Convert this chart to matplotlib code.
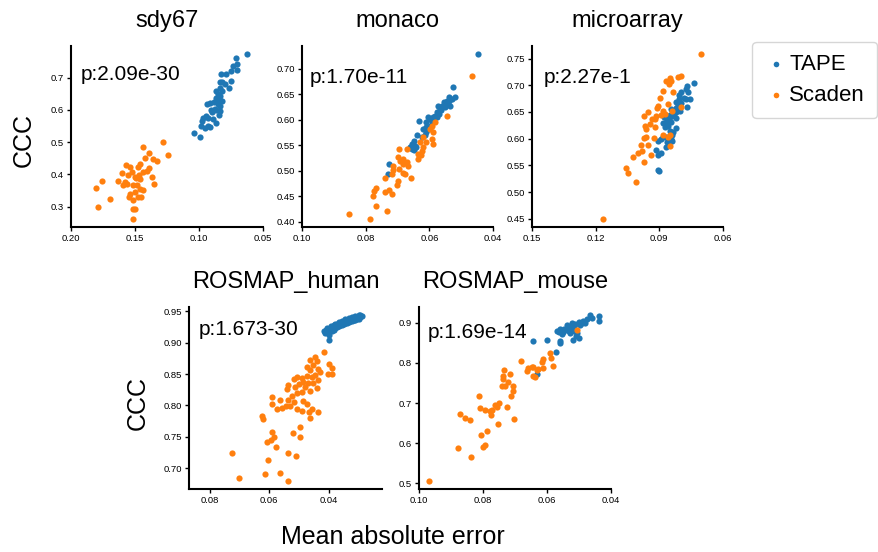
import matplotlib
matplotlib.use("Agg")
import matplotlib.pyplot as plt

plt.rcParams["font.family"] = ["Liberation Sans", "DejaVu Sans"]

BLUE = "#1f77b4"
ORANGE = "#ff7f0e"

# ---- data ----
# sdy67
sdy67_tape_mae = [0.0622, 0.0713, 0.0703, 0.0734, 0.0703, 0.0752, 0.0786, 0.0825, 0.0752, 0.0817,
                  0.0838, 0.0799, 0.0765, 0.0838, 0.0817, 0.0864, 0.0851, 0.0833, 0.0869, 0.0843,
                  0.0859, 0.0817, 0.0882, 0.0851, 0.0916, 0.0937, 0.0838, 0.0877, 0.0903, 0.0864,
                  0.0838, 0.0895, 0.0843, 0.0942, 0.0968, 0.0929, 0.0890, 0.0973, 0.0864, 0.0932,
                  0.0981, 0.0916, 0.0955, 0.1038, 0.0991]
sdy67_tape_ccc = [0.772, 0.759, 0.743, 0.736, 0.724, 0.721, 0.710, 0.710, 0.690, 0.685,
                  0.685, 0.679, 0.669, 0.666, 0.659, 0.659, 0.649, 0.643, 0.638, 0.633,
                  0.628, 0.628, 0.623, 0.618, 0.621, 0.619, 0.611, 0.604, 0.600, 0.600,
                  0.597, 0.592, 0.584, 0.580, 0.574, 0.574, 0.571, 0.566, 0.559, 0.549,
                  0.549, 0.546, 0.545, 0.528, 0.515]
sdy67_scaden_mae = [0.1283, 0.1441, 0.1241, 0.1392, 0.1420, 0.1363, 0.1332, 0.1571, 0.1540, 0.1462,
                    0.1475, 0.1389, 0.1405, 0.1605, 0.1527, 0.1436, 0.1467, 0.1501, 0.1553, 0.1371,
                    0.1631, 0.1579, 0.1493, 0.1462, 0.1566, 0.1597, 0.1519, 0.1350, 0.1758, 0.1802,
                    0.1696, 0.1462, 0.1436, 0.1498, 0.1540, 0.1545, 0.1475, 0.1454, 0.1519, 0.1787,
                    0.1514, 0.1501, 0.1519, 0.1488]
sdy67_scaden_ccc = [0.500, 0.486, 0.461, 0.467, 0.450, 0.448, 0.441, 0.428, 0.422, 0.433,
                    0.422, 0.419, 0.412, 0.404, 0.407, 0.407, 0.397, 0.392, 0.397, 0.392,
                    0.379, 0.376, 0.388, 0.386, 0.371, 0.368, 0.366, 0.370, 0.381, 0.358,
                    0.323, 0.355, 0.353, 0.345, 0.340, 0.330, 0.330, 0.330, 0.320, 0.298,
                    0.294, 0.292, 0.263, 0.366]

# monaco
monaco_tape_mae = [0.0446, 0.0525, 0.0520, 0.0530, 0.0538, 0.0546, 0.0553, 0.0544, 0.0559, 0.0551,
                   0.0567, 0.0562, 0.0572, 0.0577, 0.0569, 0.0583, 0.0577, 0.0590, 0.0598, 0.0603,
                   0.0609, 0.0593, 0.0632, 0.0598, 0.0603, 0.0611, 0.0619, 0.0609, 0.0614, 0.0640,
                   0.0624, 0.0648, 0.0653, 0.0645, 0.0656, 0.0642, 0.0653, 0.0648, 0.0661, 0.0726,
                   0.0731, 0.0536, 0.0539]
monaco_tape_ccc = [0.728, 0.664, 0.644, 0.640, 0.637, 0.637, 0.634, 0.631, 0.627, 0.624,
                   0.621, 0.618, 0.626, 0.614, 0.611, 0.608, 0.605, 0.606, 0.601, 0.605,
                   0.596, 0.595, 0.598, 0.588, 0.582, 0.585, 0.582, 0.575, 0.570, 0.570,
                   0.566, 0.559, 0.553, 0.549, 0.548, 0.546, 0.542, 0.540, 0.546, 0.514,
                   0.494, 0.627, 0.644]
monaco_scaden_mae = [0.0467, 0.0544, 0.0583, 0.0593, 0.0598, 0.0590, 0.0621, 0.0593, 0.0609, 0.0590,
                     0.0630, 0.0619, 0.0624, 0.0635, 0.0627, 0.0635, 0.0694, 0.0671, 0.0697, 0.0682,
                     0.0692, 0.0671, 0.0684, 0.0666, 0.0713, 0.0715, 0.0694, 0.0682, 0.0718, 0.0677,
                     0.0659, 0.0739, 0.0697, 0.0703, 0.0767, 0.0774, 0.0776, 0.0739, 0.0726, 0.0718,
                     0.0767, 0.0732, 0.0851, 0.0786]
monaco_scaden_ccc = [0.686, 0.608, 0.595, 0.588, 0.582, 0.575, 0.566, 0.562, 0.556, 0.553,
                     0.556, 0.546, 0.538, 0.533, 0.530, 0.523, 0.542, 0.542, 0.527, 0.523,
                     0.520, 0.517, 0.514, 0.510, 0.510, 0.501, 0.503, 0.496, 0.494, 0.494,
                     0.486, 0.486, 0.479, 0.473, 0.466, 0.460, 0.451, 0.458, 0.462, 0.455,
                     0.431, 0.421, 0.416, 0.406]

# microarray
micro_tape_mae = [0.0738, 0.0770, 0.0773, 0.0765, 0.0796, 0.0807, 0.0785, 0.0757, 0.0807, 0.0773,
                  0.0820, 0.0796, 0.0770, 0.0812, 0.0823, 0.0843, 0.0804, 0.0820, 0.0833, 0.0851,
                  0.0839, 0.0867, 0.0880, 0.0820, 0.0854, 0.0870, 0.0843, 0.0883, 0.0859, 0.0875,
                  0.0823, 0.0851, 0.0836, 0.0839, 0.0883, 0.0867, 0.0891, 0.0843, 0.0854, 0.0864,
                  0.0906, 0.0839, 0.0917, 0.0891, 0.0906, 0.0867, 0.0906, 0.0902]
micro_tape_ccc = [0.705, 0.699, 0.692, 0.687, 0.687, 0.682, 0.677, 0.674, 0.674, 0.674,
                  0.669, 0.667, 0.660, 0.663, 0.657, 0.655, 0.652, 0.649, 0.646, 0.644,
                  0.642, 0.643, 0.640, 0.638, 0.636, 0.632, 0.631, 0.629, 0.624, 0.621,
                  0.619, 0.615, 0.612, 0.607, 0.604, 0.603, 0.599, 0.599, 0.596, 0.593,
                  0.596, 0.596, 0.579, 0.573, 0.570, 0.584, 0.542, 0.540]
micro_scaden_mae = [0.0702, 0.0796, 0.0812, 0.0848, 0.0843, 0.0854, 0.0867, 0.0883, 0.0836, 0.0895,
                    0.0859, 0.0906, 0.0839, 0.0796, 0.0883, 0.0891, 0.0911, 0.0953, 0.0974, 0.0933,
                    0.0922, 0.0946, 0.0969, 0.0922, 0.0961, 0.0875, 0.0851, 0.0883, 0.0859, 0.0961,
                    0.0927, 0.0974, 0.0985, 0.0953, 0.1001, 0.0980, 0.0938, 0.1024, 0.0974, 0.1059,
                    0.1048, 0.1008, 0.1165, 0.0848, 0.0914]
micro_scaden_ccc = [0.758, 0.718, 0.715, 0.713, 0.708, 0.702, 0.708, 0.690, 0.688, 0.677,
                    0.665, 0.662, 0.652, 0.660, 0.652, 0.644, 0.657, 0.650, 0.642, 0.637,
                    0.637, 0.627, 0.624, 0.621, 0.618, 0.646, 0.606, 0.607, 0.604, 0.603,
                    0.601, 0.601, 0.588, 0.588, 0.573, 0.576, 0.570, 0.565, 0.556, 0.545,
                    0.536, 0.519, 0.450, 0.586, 0.642]

# ROSMAP_human
human_tape_mae = [0.0415, 0.0408, 0.0400, 0.0394, 0.0397, 0.0403, 0.0389, 0.0383, 0.0377, 0.0372,
                  0.0366, 0.0361, 0.0355, 0.0349, 0.0344, 0.0338, 0.0332, 0.0327, 0.0321, 0.0315,
                  0.0310, 0.0304, 0.0299, 0.0293, 0.0287, 0.0383, 0.0372, 0.0361, 0.0349, 0.0338,
                  0.0327, 0.0315, 0.0304, 0.0392, 0.0377, 0.0366, 0.0355, 0.0344, 0.0332, 0.0321,
                  0.0310, 0.0299, 0.0406, 0.0398, 0.0411, 0.0389, 0.0374, 0.0363, 0.0352, 0.0340,
                  0.0329, 0.0318, 0.0306, 0.0295]
human_tape_ccc = [0.9177, 0.9204, 0.9220, 0.9188, 0.9043, 0.9151, 0.9242, 0.9274, 0.9231, 0.9296,
                  0.9258, 0.9317, 0.9285, 0.9339, 0.9306, 0.9355, 0.9323, 0.9371, 0.9339, 0.9392,
                  0.9360, 0.9409, 0.9382, 0.9435, 0.9419, 0.9204, 0.9242, 0.9274, 0.9296, 0.9317,
                  0.9339, 0.9355, 0.9376, 0.9258, 0.9296, 0.9328, 0.9349, 0.9371, 0.9392, 0.9403,
                  0.9419, 0.9435, 0.9231, 0.9124, 0.9151, 0.9177, 0.9274, 0.9306, 0.9323, 0.9349,
                  0.9366, 0.9376, 0.9392, 0.9403]
human_scaden_mae = [0.0415, 0.0445, 0.0464, 0.0439, 0.0400, 0.0389, 0.0403, 0.0389, 0.0453, 0.0473,
                    0.0462, 0.0434, 0.0428, 0.0445, 0.0456, 0.0473, 0.0490, 0.0507, 0.0518, 0.0434,
                    0.0451, 0.0468, 0.0487, 0.0501, 0.0535, 0.0541, 0.0513, 0.0479, 0.0462, 0.0439,
                    0.0490, 0.0507, 0.0524, 0.0535, 0.0563, 0.0543, 0.0518, 0.0487, 0.0473, 0.0456,
                    0.0464, 0.0490, 0.0507, 0.0530, 0.0558, 0.0575, 0.0592, 0.0592, 0.0620, 0.0625,
                    0.0592, 0.0584, 0.0595, 0.0608, 0.0577, 0.0603, 0.0535, 0.0509, 0.0725, 0.0701,
                    0.0614, 0.0563, 0.0535, 0.0466, 0.0434, 0.0496, 0.0496, 0.0521]
human_scaden_ccc = [0.8844, 0.8774, 0.8720, 0.8704, 0.8667, 0.8597, 0.8505, 0.8505, 0.8640, 0.8613,
                    0.8559, 0.8586, 0.8532, 0.8478, 0.8452, 0.8468, 0.8435, 0.8452, 0.8425, 0.8398,
                    0.8360, 0.8360, 0.8371, 0.8344, 0.8328, 0.8263, 0.8290, 0.8290, 0.8237, 0.8274,
                    0.8220, 0.8199, 0.8156, 0.8091, 0.8091, 0.7995, 0.8048, 0.8075, 0.8022, 0.7941,
                    0.7806, 0.7914, 0.7941, 0.7984, 0.7952, 0.7941, 0.8129, 0.8022, 0.7790, 0.7833,
                    0.7575, 0.7500, 0.7446, 0.7414, 0.7339, 0.7134, 0.7242, 0.7199, 0.7242, 0.6849,
                    0.6903, 0.6930, 0.6801, 0.7903, 0.7898, 0.7661, 0.7500, 0.7554]

# ROSMAP_mouse
mouse_tape_mae = [0.0436, 0.0439, 0.0465, 0.0460, 0.0475, 0.0486, 0.0491, 0.0501, 0.0512, 0.0517,
                  0.0528, 0.0533, 0.0517, 0.0530, 0.0538, 0.0551, 0.0559, 0.0564, 0.0569, 0.0554,
                  0.0528, 0.0507, 0.0509, 0.0519, 0.0501, 0.0559, 0.0559, 0.0599, 0.0643, 0.0571,
                  0.0632, 0.0480, 0.0496, 0.0522, 0.0538, 0.0515, 0.0546]
mouse_tape_ccc = [0.9042, 0.9167, 0.9183, 0.9125, 0.9083, 0.9042, 0.9000, 0.9017, 0.8958, 0.8917,
                  0.8900, 0.8850, 0.8833, 0.8792, 0.8817, 0.8767, 0.8833, 0.8767, 0.8792, 0.8708,
                  0.8750, 0.8750, 0.8667, 0.8567, 0.8625, 0.8542, 0.8483, 0.8567, 0.8542, 0.8267,
                  0.7733, 0.9000, 0.8933, 0.9000, 0.8933, 0.8792, 0.8850]
mouse_scaden_mae = [0.0505, 0.0590, 0.0588, 0.0582, 0.0613, 0.0616, 0.0611, 0.0632, 0.0643, 0.0648,
                    0.0658, 0.0661, 0.0643, 0.0637, 0.0627, 0.0682, 0.0716, 0.0735, 0.0737, 0.0739,
                    0.0731, 0.0721, 0.0705, 0.0705, 0.0714, 0.0703, 0.0742, 0.0749, 0.0757, 0.0763,
                    0.0773, 0.0778, 0.0776, 0.0794, 0.0810, 0.0726, 0.0754, 0.0789, 0.0805, 0.0794,
                    0.0799, 0.0812, 0.0841, 0.0872, 0.0857, 0.0878, 0.0839, 0.0969]
mouse_scaden_ccc = [0.8817, 0.8250, 0.8125, 0.7917, 0.8083, 0.8017, 0.7875, 0.7833, 0.7900, 0.7900,
                    0.7875, 0.7792, 0.7683, 0.7650, 0.7850, 0.8042, 0.7733, 0.7833, 0.7683, 0.7600,
                    0.7433, 0.7517, 0.7417, 0.7292, 0.7183, 0.6600, 0.7417, 0.7000, 0.6900, 0.6958,
                    0.6817, 0.6792, 0.6708, 0.6817, 0.6875, 0.6900, 0.6475, 0.6292, 0.6208, 0.5958,
                    0.5917, 0.7183, 0.6583, 0.6733, 0.6625, 0.5875, 0.5667, 0.5067]

titles = ["sdy67", "monaco", "microarray", "ROSMAP_human", "ROSMAP_mouse"]
pvals = ["p:2.09e-30", "p:1.70e-11", "p:2.27e-1", "p:1.673-30", "p:1.69e-14"]
xticks = [[0.20, 0.15, 0.10, 0.05], [0.10, 0.08, 0.06, 0.04], [0.15, 0.12, 0.09, 0.06],
          [0.08, 0.06, 0.04], [0.10, 0.08, 0.06, 0.04]]
xlims = [(0.20, 0.05), (0.10, 0.04), (0.15, 0.06), (0.087, 0.022), (0.10, 0.04)]

panels = [
    (sdy67_tape_mae, sdy67_tape_ccc, sdy67_scaden_mae, sdy67_scaden_ccc),
    (monaco_tape_mae, monaco_tape_ccc, monaco_scaden_mae, monaco_scaden_ccc),
    (micro_tape_mae, micro_tape_ccc, micro_scaden_mae, micro_scaden_ccc),
    (human_tape_mae, human_tape_ccc, human_scaden_mae, human_scaden_ccc),
    (mouse_tape_mae, mouse_tape_ccc, mouse_scaden_mae, mouse_scaden_ccc),
]

# axes boxes in figure fraction (left, bottom, width, height)
W, H = 879, 552
boxes = [
    (71 / W, 325 / H, 192 / W, 181 / H),
    (302 / W, 325 / H, 191 / W, 181 / H),
    (532 / W, 325 / H, 191 / W, 181 / H),
    (189 / W, 63 / H, 193 / W, 182 / H),
    (419 / W, 63 / H, 192 / W, 182 / H),
]
ptext_pos = [(0.05, 0.84), (0.04, 0.825), (0.06, 0.825), (0.05, 0.875), (0.045, 0.86)]

fig = plt.figure(figsize=(8.79, 5.52), dpi=100)

for i, (tx, ty, sx, sy) in enumerate(panels):
    ax = fig.add_axes(boxes[i])
    ax.scatter(tx, ty, s=20, color=BLUE, linewidth=0, label="TAPE")
    ax.scatter(sx, sy, s=20, color=ORANGE, linewidth=0, label="Scaden")
    ax.set_xlim(*xlims[i])
    ax.set_xticks(xticks[i])
    ax.set_xticklabels([f"{v:.2f}" for v in xticks[i]])
    ax.tick_params(labelsize=6.8, length=3, width=1, pad=2)
    for side in ["top", "right"]:
        ax.spines[side].set_visible(False)
    for side in ["left", "bottom"]:
        ax.spines[side].set_linewidth(1.5)
    ax.set_title(titles[i], fontsize=17, pad=14)
    ax.text(ptext_pos[i][0], ptext_pos[i][1], pvals[i], transform=ax.transAxes,
            fontsize=15, ha="left", va="center")
    if i == 0:
        handles, labels = ax.get_legend_handles_labels()

fig.text(24 / W, 1 - 140 / H, "CCC", rotation=90, ha="center", va="center", fontsize=18)
fig.text(138 / W, 1 - 403 / H, "CCC", rotation=90, ha="center", va="center", fontsize=18)
fig.text(393 / W, 1 - 537 / H, "Mean absolute error", ha="center", va="center", fontsize=18)

fig.legend(handles, labels, loc="upper right", bbox_to_anchor=(877 / W, 1 - 42 / H),
           borderaxespad=0, fontsize=16, handletextpad=0.1, borderpad=0.55,
           labelspacing=0.45, handlelength=1.0, markerscale=0.9)

fig.savefig("out.png", dpi=100)
